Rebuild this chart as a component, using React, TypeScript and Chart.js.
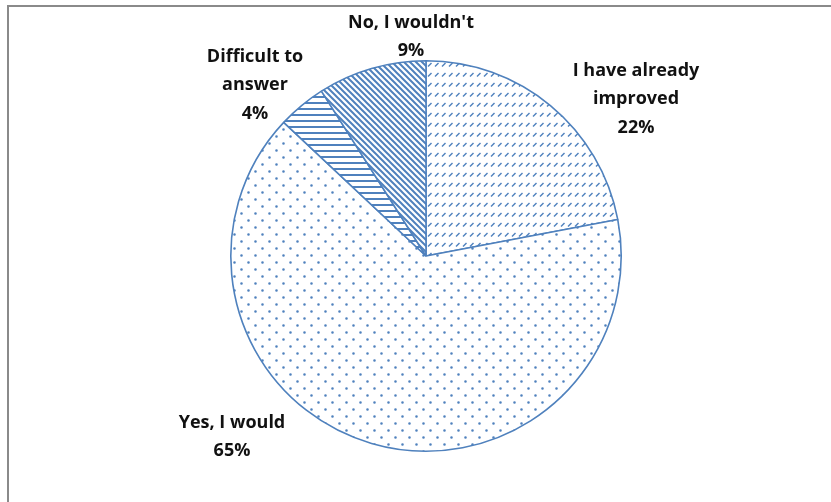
import React, { useEffect, useRef } from "react";
import { Chart, ArcElement, PieController } from "chart.js";

Chart.register(ArcElement, PieController);

const categories = ["I have already improved", "Yes, I would", "Difficult to answer", "No, I wouldn't"];
const labelLines = [["I have already", "improved"], ["Yes, I would"], ["Difficult to", "answer"], ["No, I wouldn't"]];
const values = [22, 65, 4, 9];
const patternKinds = ["dashUp", "dots", "horiz", "diagDown"];
// label block centre offsets from the pie centre (text placement only)
const labelOffsets = [
  [210, -157],
  [-194, 181],
  [-171, -171],
  [-15, -219],
];

const BLUE = "#4F81BD";

function makePattern(kind: string): CanvasPattern | string {
  const c = document.createElement("canvas");
  let w = 8, h = 8;
  if (kind === "dashUp") { w = 7; h = 10; }
  if (kind === "dots") { w = 14; h = 14; }
  if (kind === "horiz") { w = 6; h = 6; }
  if (kind === "diagDown") { w = 6; h = 6; }
  c.width = w; c.height = h;
  const g = c.getContext("2d")!;
  g.fillStyle = "#ffffff";
  g.fillRect(0, 0, w, h);
  g.strokeStyle = BLUE;
  g.fillStyle = BLUE;
  if (kind === "dashUp") {
    g.lineWidth = 1.4;
    g.beginPath();
    g.moveTo(1, 6.5);
    g.lineTo(4.5, 3);
    g.stroke();
  } else if (kind === "dots") {
    g.beginPath();
    g.arc(3.5, 3.5, 1.3, 0, Math.PI * 2);
    g.arc(10.5, 10.5, 1.3, 0, Math.PI * 2);
    g.fill();
  } else if (kind === "horiz") {
    g.fillRect(0, 0, w, 2);
  } else if (kind === "diagDown") {
    g.lineWidth = 2;
    g.beginPath();
    g.moveTo(-1, -1); g.lineTo(w + 1, h + 1);
    g.moveTo(-1 - w, -1); g.lineTo(1, h + 1);
    g.moveTo(w - 1, -1); g.lineTo(2 * w + 1, h + 1);
    g.stroke();
  }
  const p = g.createPattern(c, "repeat");
  return p || BLUE;
}

const labelPlugin = {
  id: "sliceLabels",
  afterDatasetsDraw(chart: any) {
    const meta = chart.getDatasetMeta(0);
    const ctx = chart.ctx as CanvasRenderingContext2D;
    const total = values.reduce((a, b) => a + b, 0);
    const lh = 28.5;
    ctx.save();
    ctx.font = "bold 18px 'Open Sans'";
    ctx.fillStyle = "#111111";
    ctx.textAlign = "center";
    ctx.textBaseline = "middle";
    meta.data.forEach((arc: any, i: number) => {
      const lines = [...labelLines[i], Math.round((values[i] / total) * 100) + "%"];
      const cx = arc.x + labelOffsets[i][0];
      const cy = arc.y + labelOffsets[i][1];
      const top = cy - ((lines.length - 1) * lh) / 2;
      lines.forEach((t, k) => ctx.fillText(t, cx, top + k * lh));
    });
    ctx.restore();
  },
};

export default function App() {
  const ref = useRef<HTMLCanvasElement | null>(null);
  useEffect(() => {
    if (!ref.current) return;
    const chart = new Chart(ref.current, {
      type: "pie",
      data: {
        labels: categories,
        datasets: [
          {
            data: values,
            backgroundColor: patternKinds.map(makePattern) as any,
            borderColor: BLUE,
            borderWidth: 1.6,
          },
        ],
      },
      options: {
        responsive: false,
        animation: false,
        devicePixelRatio: 1,
        layout: { padding: { left: 230, right: 209, top: 60, bottom: 50 } },
        plugins: { legend: { display: false }, tooltip: { enabled: false } },
      } as any,
      plugins: [labelPlugin],
    });
    return () => chart.destroy();
  }, []);
  return (
    <div style={{ position: "absolute", left: 0, top: 0, width: 831, height: 502, background: "#fff", overflow: "hidden" }}>
      <div style={{ position: "absolute", left: 7, top: 5, width: 900, height: 600, border: "2px solid #8a8a8a", boxSizing: "border-box" }} />
      <canvas ref={ref} width={831} height={502} style={{ position: "absolute", left: 0, top: 0, width: 831, height: 502 }} />
    </div>
  );
}
